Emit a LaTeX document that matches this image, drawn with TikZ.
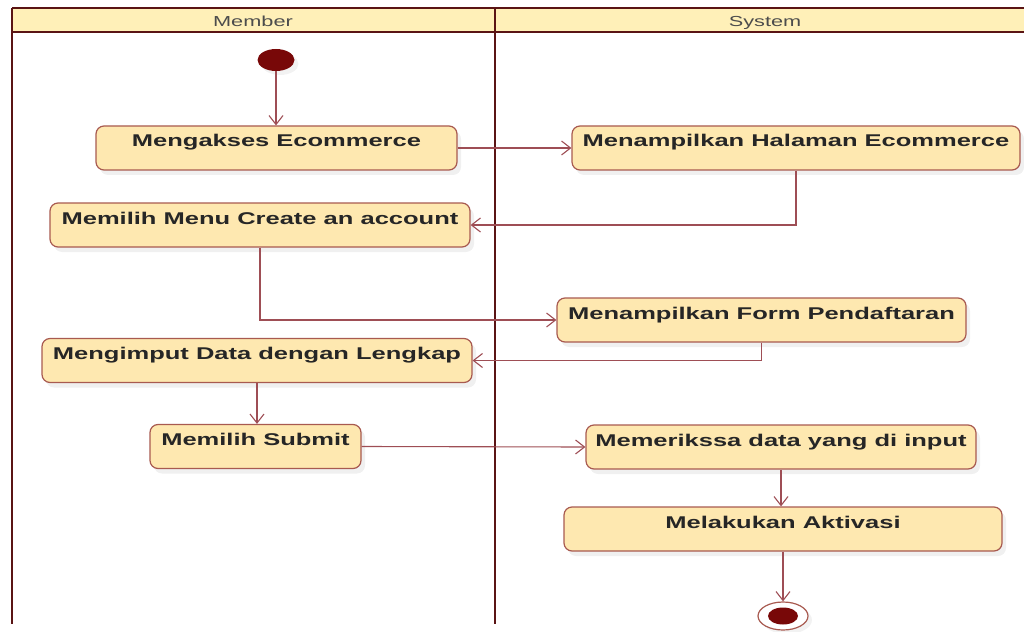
\documentclass[tikz,border=0pt]{standalone}
\usepackage{fontspec}
\newfontfamily\umlfont{Liberation Sans}[FakeStretch=1.5]
\usetikzlibrary{arrows.meta}
\usetikzlibrary{shapes.geometric}
\usetikzlibrary{shadows}
\definecolor{actfill}{HTML}{FEE8B0}
\definecolor{actline}{HTML}{A85A50}
\definecolor{flowline}{HTML}{9E4E55}
\definecolor{lanefill}{HTML}{FFF0B8}
\definecolor{laneline}{HTML}{5A1414}
\definecolor{dotfill}{HTML}{780808}
\begin{document}
\begin{tikzpicture}[x=1pt,y=-1pt,
    >={Straight Barb[length=9pt,width=14pt]},
    act/.style={rectangle,rounded corners=8pt,draw=actline,line width=1.2pt,fill=actfill,
      drop shadow={opacity=0.12,shadow xshift=4pt,shadow yshift=-5pt},
      font=\umlfont\fontsize{17}{19}\selectfont\bfseries,text=black!85,
      inner xsep=4pt,inner ysep=0pt,text height=21pt,text depth=23pt},
    lanehead/.style={font=\umlfont\fontsize{14.5}{16}\selectfont,text=black!70,inner sep=0pt,
      text height=10.5pt,text depth=3.5pt},
    flow/.style={->,draw=flowline,line width=1.1pt}]

      \useasboundingbox (0,0) rectangle (1024,631);

      \fill[lanefill] (12,8) rectangle (1024,32);
      \draw[laneline,line width=1.2pt] (12,8) -- (1024,8) (12,32) -- (1024,32);
      \draw[laneline,line width=2.8pt] (12,8) -- (12,624) (495,8) -- (495,624);
      \node[lanehead] (member) at (253,23.5) {Member};
      \node[lanehead] (system) at (765,23.5) {System};

      \node[ellipse,fill=dotfill,minimum width=37pt,minimum height=22pt,inner sep=0pt,
        drop shadow={opacity=0.1,shadow xshift=4pt,shadow yshift=-4pt}] (start) at (276,60) {};

      \node[act,minimum width=361pt] (acc) at (276.5,148) {Mengakses Ecommerce};
      \node[act,minimum width=448pt] (show) at (796,148) {Menampilkan Halaman Ecommerce};
      \node[act,minimum width=420pt] (menu) at (260,225) {Memilih Menu Create an account};
      \node[act,minimum width=409pt] (form) at (761.5,320) {Menampilkan Form Pendaftaran};
      \node[act,minimum width=430pt] (input) at (257,360.5) {Mengimput Data dengan Lengkap};
      \node[act,minimum width=211pt] (submit) at (255.5,446.5) {Memilih Submit};
      \node[act,minimum width=390pt] (check) at (781,447) {Memerikssa data yang di input};
      \node[act,minimum width=438pt] (aktiv) at (783,529) {Melakukan Aktivasi};

      \node[ellipse,draw=actline,fill=white,line width=1.2pt,minimum width=50pt,minimum height=28pt,
        drop shadow={opacity=0.1,shadow xshift=4pt,shadow yshift=-4pt}] (stop) at (783,616) {};
      \node[ellipse,fill=dotfill,minimum width=30pt,minimum height=17pt,inner sep=0pt] (stopdot) at (stop) {};

      \draw[flow] (start) -- (start |- acc.north);
      \draw[flow] (acc.east) -- (show.west);
      \draw[flow] (show.south) |- (menu.east);
      \draw[flow] (menu.south) |- (form.west);
      \draw[flow] (form.south) |- (input.east);
      \draw[flow] (input.south) -- (input.south |- submit.north);
      \draw[flow] (submit.east) -- (check.west);
      \draw[flow] (check.south) -- (check.south |- aktiv.north);
      \draw[flow] (aktiv.south) -- (stop.north);
    \end{tikzpicture}
\end{document}
